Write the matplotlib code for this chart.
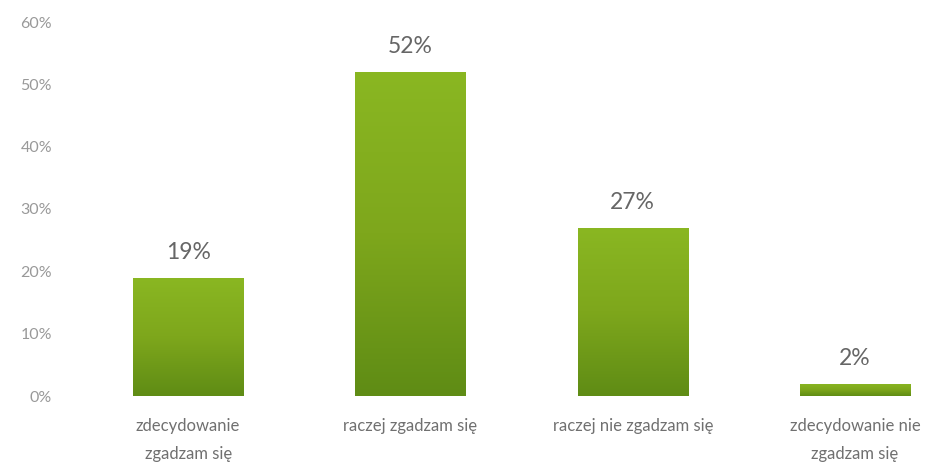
import matplotlib
matplotlib.use("Agg")
import matplotlib.pyplot as plt
import numpy as np
from matplotlib.colors import LinearSegmentedColormap

categories = ["zdecydowanie\nzgadzam się", "raczej zgadzam się",
              "raczej nie zgadzam się", "zdecydowanie nie\nzgadzam się"]
values = [19, 52, 27, 2]
yticks = [0, 10, 20, 30, 40, 50, 60]

plt.rcParams['font.family'] = ['Lato', 'DejaVu Sans']

fig = plt.figure(figsize=(9.44, 4.68), dpi=100)
ax = fig.add_axes([77/944, 72/468, 1 - 77/944, (396-22)/468])
x = np.arange(len(categories))
width = 0.495
bars = ax.bar(x, values, width=width, color='none', edgecolor='none')

cmap = LinearSegmentedColormap.from_list("g", ["#5f8c15", "#7ea71c", "#8ab722"])
grad = np.linspace(0, 1, 256).reshape(-1, 1)
for b in bars:
    x0, y0 = b.get_x(), b.get_y()
    w, h = b.get_width(), b.get_height()
    im = ax.imshow(grad, extent=[x0, x0 + w, y0, y0 + h], origin='lower',
                   cmap=cmap, aspect='auto', zorder=2)
    im.set_clip_path(b)

for xi, v in zip(x, values):
    ax.text(xi, v + 2.4, f"{v}%", ha='center', va='bottom', fontsize=16.5, color='#666666')

ax.set_xlim(-0.5, (944 - 77) / 222.3 - 0.5)
ax.set_ylim(0, 60)
ax.set_yticks(yticks)
ax.set_yticklabels([f"{t}%" for t in yticks], fontsize=11.5, color='#999999')
ax.set_xticks(x)
ax.set_xticklabels(categories, fontsize=12, color='#707070', linespacing=1.9)
ax.tick_params(length=0, axis='y', pad=18)
ax.tick_params(length=0, axis='x', pad=16)
for s in ax.spines.values():
    s.set_visible(False)

fig.savefig("out.png", dpi=100)
